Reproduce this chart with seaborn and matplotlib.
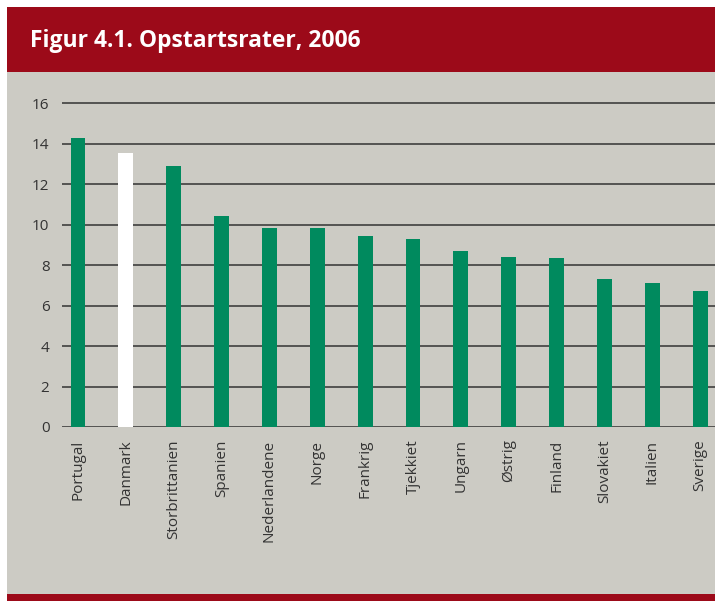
import matplotlib
matplotlib.use("Agg")
import matplotlib.pyplot as plt
import seaborn as sns
from matplotlib.patches import Rectangle

# data
lande = ["Portugal", "Danmark", "Storbrittanien", "Spanien", "Nederlandene", "Norge",
         "Frankrig", "Tjekkiet", "Ungarn", "Østrig", "Finland", "Slovakiet", "Italien", "Sverige"]
rater = [14.27, 13.53, 12.89, 10.42, 9.83, 9.83, 9.43, 9.28, 8.69, 8.40, 8.35, 7.31, 7.11, 6.72]
farver = ["#008a5e" if land != "Danmark" else "#ffffff" for land in lande]
y_ticks = [0, 2, 4, 6, 8, 10, 12, 14, 16]

RED = "#9c0a19"
BG = "#cccbc4"

sns.set_theme(style="white")
plt.rcParams["font.family"] = ["Open Sans", "DejaVu Sans"]

W, H = 715, 601
fig = plt.figure(figsize=(W / 100, H / 100), dpi=100)
fig.patch.set_facecolor("white")

# baggrund og røde bånd
for (y0, y1, c) in [(72, 594, BG), (7, 72, RED), (594, H, RED)]:
    fig.patches.append(Rectangle((7 / W, 1 - y1 / H), 1, (y1 - y0) / H, transform=fig.transFigure,
                                 facecolor=c, edgecolor="none", zorder=-5))
fig.text(30 / W, 1 - 41 / H, "Figur 4.1. Opstartsrater, 2006", color="white",
         fontsize=16.5, fontweight="bold", va="center", ha="left")

ax = fig.add_axes([62 / W, 1 - 427 / H, (W - 62) / W, (427 - 102) / H])
ax.set_zorder(2)
ax.set_facecolor(BG)
sns.barplot(x=lande, y=rater, hue=lande, palette=farver, legend=False,
            width=0.31, saturation=1, linewidth=0, ax=ax, zorder=3)

ax.set_xlim(-0.335, 13.31)
ax.set_ylim(0, 16.05)
ax.set_yticks(y_ticks)
ax.yaxis.grid(True, color="#333333", linewidth=1.1)
ax.set_axisbelow(True)
for s in ax.spines.values():
    s.set_visible(False)
ax.tick_params(axis="y", length=0, pad=9, labelsize=11, labelcolor="#333333")
ax.tick_params(axis="x", length=0, pad=9, labelsize=11, labelcolor="#333333", labelrotation=90)
ax.set_xlabel("")
ax.set_ylabel("")

fig.savefig("out.png", dpi=100)
